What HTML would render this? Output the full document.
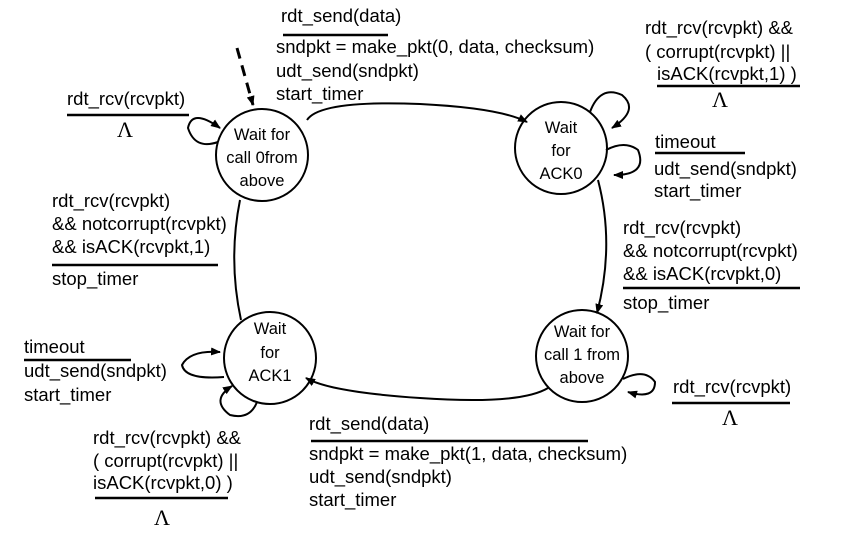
<!DOCTYPE html>
<html><head><meta charset="utf-8"><style>
html,body{margin:0;padding:0;background:#fff;}
svg{display:block;font-family:"Liberation Sans",Arial,sans-serif;font-size:18.5px;}
text{fill:#000;}
.c{font-size:16.5px;}
.g{font-family:"Liberation Serif",serif;font-size:22px;}
</style></head><body>
<svg width="862" height="535" viewBox="0 0 862 535" xmlns="http://www.w3.org/2000/svg">
<defs><marker id="a" markerWidth="10" markerHeight="8" refX="9" refY="4" orient="auto" markerUnits="userSpaceOnUse"><path d="M0,0 L10,4 L0,8 Z" fill="#000"/></marker></defs>
<g fill="none" stroke="#000" stroke-width="2">
<circle cx="262" cy="155" r="46"/>
<circle cx="561" cy="148" r="46"/>
<circle cx="270" cy="358" r="46"/>
<circle cx="582" cy="356" r="46"/>
<path d="M307,120 Q320,100 420,104 Q500,108 527,122" marker-end="url(#a)"/>
<path d="M598,180 Q615,245 597,313" marker-end="url(#a)"/>
<path d="M548,388 Q520,405 420,398 Q330,392 306,378" marker-end="url(#a)"/>
<path d="M241,320 Q228,260 240,200"/>
<path d="M237,48 L253,105" stroke-width="3" stroke-dasharray="11,7" marker-end="url(#a)"/>
<path d="M218,142 Q195,150 188,128 Q192,108 220,128" marker-end="url(#a)"/>
<path d="M590,112 Q600,85 622,95 Q640,110 612,128" marker-end="url(#a)"/>
<path d="M606,150 Q625,140 638,150 Q648,175 614,175" marker-end="url(#a)"/>
<path d="M623,379 Q645,368 655,382 Q655,400 628,392" marker-end="url(#a)"/>
<path d="M224,377 Q185,380 182,365 Q190,350 220,352" marker-end="url(#a)"/>
<path d="M257,402 Q250,420 230,415 Q210,400 232,386" marker-end="url(#a)"/>
</g>
<g stroke="#000" stroke-width="2.5">
<line x1="283" y1="35" x2="388" y2="35"/>
<line x1="67" y1="115" x2="189" y2="115"/>
<line x1="657" y1="86" x2="800" y2="86"/>
<line x1="655" y1="153" x2="745" y2="153"/>
<line x1="623" y1="288" x2="800" y2="288"/>
<line x1="52" y1="265" x2="218" y2="265"/>
<line x1="24" y1="360" x2="131" y2="360"/>
<line x1="95" y1="498" x2="228" y2="498"/>
<line x1="311" y1="441" x2="588" y2="441"/>
<line x1="672" y1="403" x2="790" y2="403"/>
</g>
<g text-anchor="middle" class="c">
<text x="262" y="140">Wait for</text><text x="262" y="163">call 0from</text><text x="262" y="186">above</text>
<text x="561" y="133">Wait</text><text x="561" y="156">for</text><text x="561" y="179">ACK0</text>
<text x="270" y="334">Wait</text><text x="270" y="358">for</text><text x="270" y="381">ACK1</text>
<text x="582" y="337">Wait for</text><text x="582" y="360">call 1 from</text><text x="582" y="383">above</text>
</g>
<g text-anchor="middle">
<text class="g" x="125" y="137">Λ</text>
<text class="g" x="720" y="107">Λ</text>
<text class="g" x="162" y="525">Λ</text>
<text class="g" x="730" y="425">Λ</text>
</g>
<text x="281" y="22">rdt_send(data)</text>
<text x="276" y="53">sndpkt = make_pkt(0, data, checksum)</text>
<text x="276" y="77">udt_send(sndpkt)</text>
<text x="276" y="100">start_timer</text>
<text x="67" y="105">rdt_rcv(rcvpkt)</text>
<text x="645" y="34">rdt_rcv(rcvpkt) &amp;&amp;</text>
<text x="645" y="58">( corrupt(rcvpkt) ||</text>
<text x="657" y="80">isACK(rcvpkt,1) )</text>
<text x="655" y="148">timeout</text>
<text x="654" y="175">udt_send(sndpkt)</text>
<text x="654" y="197">start_timer</text>
<text x="623" y="234">rdt_rcv(rcvpkt)</text>
<text x="623" y="257">&amp;&amp; notcorrupt(rcvpkt)</text>
<text x="623" y="280">&amp;&amp; isACK(rcvpkt,0)</text>
<text x="623" y="309">stop_timer</text>
<text x="52" y="207">rdt_rcv(rcvpkt)</text>
<text x="52" y="230">&amp;&amp; notcorrupt(rcvpkt)</text>
<text x="52" y="253">&amp;&amp; isACK(rcvpkt,1)</text>
<text x="52" y="285">stop_timer</text>
<text x="24" y="353">timeout</text>
<text x="24" y="377">udt_send(sndpkt)</text>
<text x="24" y="401">start_timer</text>
<text x="93" y="444">rdt_rcv(rcvpkt) &amp;&amp;</text>
<text x="93" y="467">( corrupt(rcvpkt) ||</text>
<text x="93" y="489">isACK(rcvpkt,0) )</text>
<text x="309" y="430">rdt_send(data)</text>
<text x="309" y="460">sndpkt = make_pkt(1, data, checksum)</text>
<text x="309" y="483">udt_send(sndpkt)</text>
<text x="309" y="506">start_timer</text>
<text x="673" y="393">rdt_rcv(rcvpkt)</text>
</svg>
</body></html>
